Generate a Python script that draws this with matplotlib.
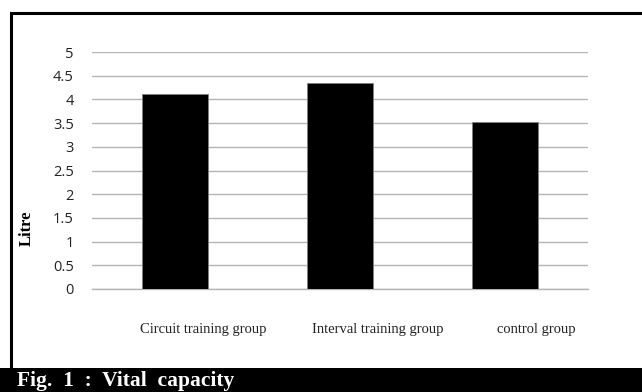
import matplotlib.pyplot as plt
import matplotlib.patches as mpatches

groups = ['Circuit training group', 'Interval training group', 'control group']
litre = [4.11, 4.34, 3.52]
yticks = [0, 0.5, 1, 1.5, 2, 2.5, 3, 3.5, 4, 4.5, 5]
ytick_labels = ['0', '0.5', '1', '1.5', '2', '2.5', '3', '3.5', '4', '4.5', '5']

W, H = 642, 392
fig = plt.figure(figsize=(W / 100, H / 100), dpi=100)

# outer frame and caption strip
fig.patches.append(mpatches.Rectangle((11 / W, 0), 1, 1 - 13 / H, transform=fig.transFigure,
                                      fill=False, edgecolor='black', lw=2.2))
fig.patches.append(mpatches.Rectangle((0, 0), 1, 24 / H, transform=fig.transFigure,
                                      facecolor='black', edgecolor='none'))
fig.text(17 / W, 1 / H, 'Fig.  1  :  Vital  capacity', color='white', fontsize=15.5,
         fontweight='bold', family='Liberation Serif', ha='left', va='bottom')

ax = fig.add_axes([92 / W, (H - 289) / H, (588 - 92) / W, (289 - 52) / H])
x = range(len(groups))
ax.bar(x, litre, width=0.4, color='black', edgecolor='#808080', linewidth=0.6, zorder=3)
ax.set_xlim(-0.5, 2.5)
ax.set_ylim(0, 5)
ax.set_yticks(yticks)
ax.set_yticklabels(ytick_labels, family='Open Sans', fontsize=10.5, color='#222222')
ax.yaxis.grid(True, color='#b4b4b4', linewidth=1)
ax.set_axisbelow(True)
ax.tick_params(axis='y', length=0, pad=13)
ax.set_xticks([])
for s in ['left', 'right', 'top']:
    ax.spines[s].set_visible(False)
ax.spines['bottom'].set_color('#b4b4b4')
ax.spines['bottom'].set_linewidth(1)

# category labels sit well below the axis, shifted right of the bars
shifts = [0.17, 0.23, 0.19]
for i, g in enumerate(groups):
    ax.text(i + shifts[i], -0.86, g, ha='center', va='center', fontsize=10.5,
            family='Liberation Serif', color='#222222')

fig.text(27 / W, 1 - 228 / H, 'Litre', rotation=90, ha='center', va='center',
         fontsize=12, fontweight='bold', family='Liberation Serif')

fig.savefig('out.png', dpi=100)
